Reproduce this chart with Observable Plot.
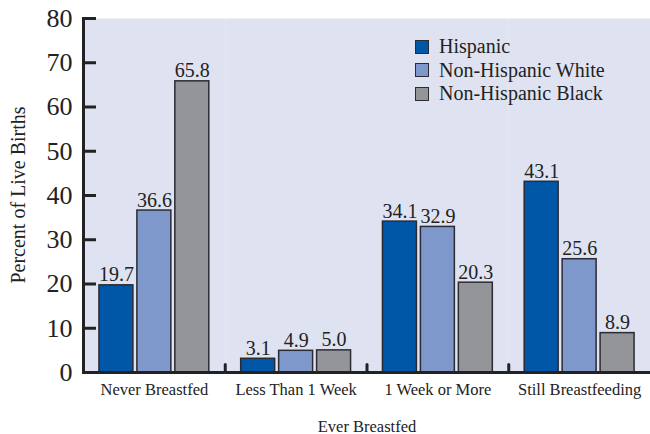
<!DOCTYPE html>
<html>
<head>
<meta charset="utf-8">
<script src="https://cdn.jsdelivr.net/npm/d3@7"></script>
<script src="https://cdn.jsdelivr.net/npm/@observablehq/plot@0.6"></script>
<style>
  html, body { margin: 0; padding: 0; background: #ffffff; }
  #wrap { position: relative; width: 650px; height: 434px; font-family: "Liberation Serif", "DejaVu Serif", serif; color: #222; }
  #ylabel { position: absolute; left: 18px; top: 195px; transform: translate(-50%, -50%) rotate(-90deg); font-size: 20px; white-space: nowrap; }
  #legend { position: absolute; left: 415px; top: 35px; font-size: 20px; }
  .row { display: flex; align-items: center; height: 23.5px; }
  .sw { width: 12px; height: 12px; border: 1.5px solid #2b2b33; margin-right: 10px; }
</style>
</head>
<body>
<div id="wrap">
  <div id="chart"></div>
  <div id="ylabel">Percent of Live Births</div>
  <div id="legend"></div>
</div>
<script>
const groups = ["Never Breastfed", "Less Than 1 Week", "1 Week or More", "Still Breastfeeding"];
const races = ["Hispanic", "Non-Hispanic White", "Non-Hispanic Black"];
const hispanic = [19.7, 3.1, 34.1, 43.1];
const white = [36.6, 4.9, 32.9, 25.6];
const black = [65.8, 5.0, 20.3, 8.9];
const yTicks = [0, 10, 20, 30, 40, 50, 60, 70, 80];
const colors = ["#0057a8", "#7f98cc", "#949598"];

const series = [hispanic, white, black];
const data = [];
groups.forEach((g, gi) => races.forEach((r, ri) => data.push({group: g, race: r, value: series[ri][gi]})));

const ink = "#222";
const font = "Liberation Serif";

const plot = Plot.plot({
  width: 650,
  height: 434,
  marginLeft: 83,
  marginRight: 0,
  marginTop: 18,
  marginBottom: 62,
  style: {fontFamily: font, color: ink, background: "transparent"},
  fx: {domain: groups, padding: 0, round: false},
  x: {domain: races, paddingInner: 0.105, paddingOuter: 0.42, round: false, axis: null},
  y: {domain: [0, 80]},
  color: {domain: races, range: colors},
  marks: [
    Plot.frame({fill: "#dfe2f1", stroke: null}),
    Plot.barY(data, {fx: "group", x: "race", y: "value", fill: "race", stroke: "#2b2b33", strokeWidth: 1.5}),
    Plot.text(data, {fx: "group", x: "race", y: "value", text: d => d.value.toFixed(1), lineAnchor: "bottom", dy: -4, fontSize: 20, fill: ink}),
    Plot.ruleY([0], {stroke: ink, strokeWidth: 3}),
    Plot.vector(groups, {fx: d => d, frameAnchor: "bottom-left", length: 8, rotate: 0, anchor: "start", stroke: ink, strokeWidth: 3,
      shape: {draw(context, l) { context.moveTo(0, 0); context.lineTo(0, -l); }}}),
    Plot.frame({anchor: "left", facetAnchor: "left", stroke: ink, strokeWidth: 3}),
    Plot.axisY({ticks: yTicks, tickSize: -13, tickPadding: 24, strokeWidth: 3, fontSize: 26, label: null, fill: ink, stroke: ink}),
    Plot.axisFx({anchor: "bottom", tickSize: 0, tickPadding: 11, fontSize: 16.5, fill: ink, label: "Ever Breastfed", labelAnchor: "center", labelOffset: 59})
  ]
});
document.getElementById("chart").appendChild(plot);

const legend = document.getElementById("legend");
races.forEach((r, i) => {
  const row = document.createElement("div");
  row.className = "row";
  const sw = document.createElement("div");
  sw.className = "sw";
  sw.style.background = colors[i];
  const t = document.createElement("span");
  t.textContent = r;
  row.appendChild(sw);
  row.appendChild(t);
  legend.appendChild(row);
});
</script>
</body>
</html>
